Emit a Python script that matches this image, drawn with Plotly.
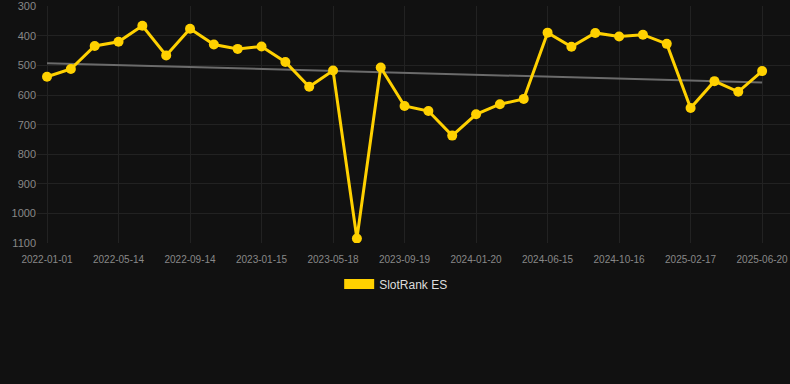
import numpy as np
import plotly.graph_objects as go

dates = [
    "2022-01-01", "2022-02-14", "2022-03-30", "2022-05-14", "2022-06-24", "2022-08-04",
    "2022-09-14", "2022-10-25", "2022-12-05", "2023-01-15", "2023-02-25", "2023-04-07",
    "2023-05-18", "2023-06-28", "2023-08-08", "2023-09-19", "2023-10-30", "2023-12-10",
    "2024-01-20", "2024-03-08", "2024-04-27", "2024-06-15", "2024-07-26", "2024-09-05",
    "2024-10-16", "2024-11-26", "2025-01-06", "2025-02-17", "2025-03-30", "2025-05-10",
    "2025-06-20",
]
rank_es = [
    538, 512, 434, 420, 366, 466, 376, 429, 444, 436, 488, 572, 517, 1085, 507,
    637, 654, 737, 665, 631, 613, 389, 437, 390, 402, 396, 427, 644, 553, 589, 519,
]
tick_labels = dates[::3]
y_ticks = [300, 400, 500, 600, 700, 800, 900, 1000, 1100]
series_name = "SlotRank ES"

idx = np.arange(len(rank_es))
slope, intercept = np.polyfit(idx, rank_es, 1)
trend = list(slope * idx + intercept)

YELLOW = "#FFD100"
fig = go.Figure()
fig.add_trace(go.Scatter(
    x=dates, y=trend, mode="lines",
    line=dict(color="#6b6b6b", width=2),
    showlegend=False, hoverinfo="skip",
))
fig.add_trace(go.Scatter(
    x=dates, y=rank_es, mode="lines+markers",
    line=dict(color=YELLOW, width=3),
    marker=dict(color=YELLOW, size=10),
    name=series_name, showlegend=False,
))
# legend swatch entry
fig.add_trace(go.Scatter(
    x=[None], y=[None], mode="lines",
    line=dict(color=YELLOW, width=12),
    name=series_name, showlegend=True,
))

font = "Liberation Sans, Arial, Helvetica, sans-serif"
fig.update_layout(
    width=790, height=384,
    margin=dict(l=37, r=0, t=6, b=141),
    paper_bgcolor="#111111", plot_bgcolor="#111111",
    font=dict(family=font, color="#888888", size=11),
    xaxis=dict(
        type="category", range=[-0.42, 31.17],
        tickmode="array", tickvals=tick_labels, ticktext=tick_labels,
        showgrid=True, gridcolor="#222222", gridwidth=1,
        zeroline=False, showline=False, ticks="",
        tickfont=dict(size=10, color="#888888"),
        ticklabelstandoff=9,
    ),
    yaxis=dict(
        range=[1100, 299.0], tickmode="array", tickvals=y_ticks,
        showgrid=True, gridcolor="#222222", gridwidth=1,
        zeroline=False, showline=False, ticks="",
        tickfont=dict(size=11, color="#888888"),
    ),
    legend=dict(
        orientation="h", x=0.477, xanchor="center", y=-0.173, yanchor="middle",
        font=dict(size=12, color="#dddddd"), bgcolor="rgba(0,0,0,0)",
    ),
    showlegend=True,
)
fig.write_html(
    "out.html",
    config={"displayModeBar": False},
    post_script="document.body.style.margin='0';document.body.style.background='#111111';",
)
